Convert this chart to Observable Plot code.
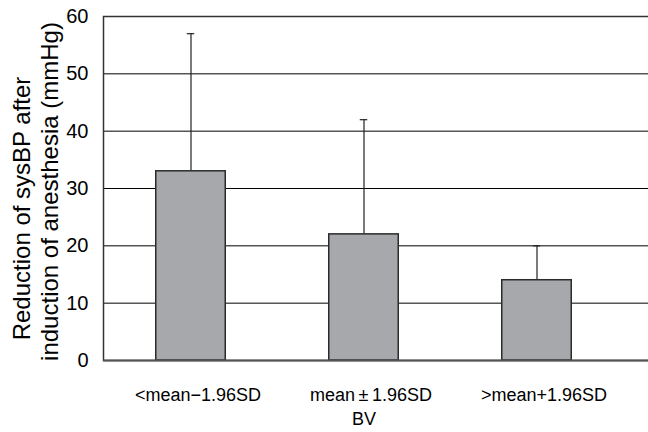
<!DOCTYPE html>
<html>
<head>
<meta charset="utf-8">
<script src="https://cdn.jsdelivr.net/npm/d3@7"></script>
<script src="https://cdn.jsdelivr.net/npm/@observablehq/plot@0.6"></script>
<style>
  html, body { margin: 0; padding: 0; background: #fff; }
  svg { display: block; }
</style>
</head>
<body>
<div id="chart"></div>
<script>
const categories = ["<mean−1.96SD", "mean\u2009±\u20091.96SD", ">mean+1.96SD"];
const means = [33, 22, 14];
const upper = [57, 42, 20];
const yTicks = [0, 10, 20, 30, 40, 50, 60];
const yLabel1 = "Reduction of sysBP after";
const yLabel2 = "induction of anesthesia (mmHg)";
const xLabel = "BV";

const data = categories.map((c, i) => ({cat: c, mean: means[i], upper: upper[i]}));

const font = "'Liberation Sans', Arial, 'Noto Sans CJK JP', sans-serif";

const chart = Plot.plot({
  width: 648,
  height: 432,
  marginTop: 16,
  marginBottom: 72,
  marginLeft: 103,
  marginRight: 0,
  style: {fontFamily: font, background: "#fff", color: "#000"},
  x: {domain: categories, range: [103, 623.5], padding: 0, axis: null},
  y: {domain: [0, 60], axis: null},
  marks: [
    Plot.ruleY(yTicks.filter(d => d > 0 && d < 60), {stroke: "#000", strokeWidth: 1}),
    Plot.frame({stroke: "#333", strokeWidth: 1.5, insetRight: -4}),
    Plot.ruleX(data, {x: "cat", y1: "mean", y2: "upper", stroke: "#222", strokeWidth: 1.2}),
    Plot.tickY(data, {x: "cat", y: "upper", stroke: "#222", strokeWidth: 1.2, insetLeft: 82.75, insetRight: 82.75}),
    Plot.barY(data, {x: "cat", y: "mean", fill: "#a7a8ab", stroke: "#2b2b2b", strokeWidth: 1.5, insetLeft: 51.75, insetRight: 51.75}),
    Plot.ruleY([0], {stroke: "#555", strokeWidth: 2}),
    Plot.axisY(yTicks, {tickSize: 0, tickPadding: 15, fontSize: 20, fill: "#000"}),
    Plot.axisX({tickSize: 0, tickPadding: 28, dx: 7, fontSize: 18, fill: "#000", label: null}),
    Plot.text([xLabel], {frameAnchor: "bottom", dx: -12, dy: 64, fontSize: 18, fill: "#000"}),
    Plot.text([yLabel1], {frameAnchor: "left", textAnchor: "middle", rotate: -90, dx: -81, dy: 20, fontSize: 24, fill: "#000"}),
    Plot.text([yLabel2], {frameAnchor: "left", textAnchor: "middle", rotate: -90, dx: -53, dy: 3, fontSize: 24, fill: "#000"})
  ]
});
document.getElementById("chart").appendChild(chart);
</script>
</body>
</html>
